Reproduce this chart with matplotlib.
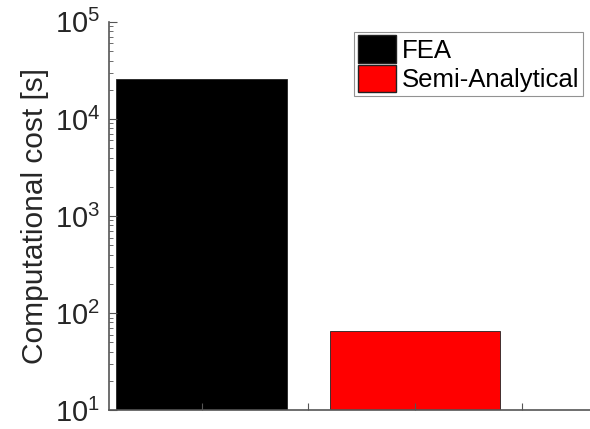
import matplotlib
matplotlib.use("Agg")
import matplotlib.pyplot as plt
from matplotlib.patches import Patch

methods = ["FEA", "Semi-Analytical"]
cost = [2.6e4, 65]
colors = ["black", "red"]
xpos = [1, 2]

plt.rcParams["font.family"] = "Liberation Sans"
plt.rcParams["mathtext.default"] = "regular"

fig = plt.figure(figsize=(5.9, 4.29), dpi=100)
ax = fig.add_axes([0.184, 0.044, 0.816, 0.905])

ax.bar(xpos, cost, width=0.8, color=colors, edgecolor="#222222", linewidth=0.6, bottom=0)
ax.set_yscale("log")
ax.set_ylim(10, 1e5)
ax.set_xlim(0.564, 2.82)
ax.set_xticks([1, 1.5, 2, 2.5])
ax.set_xticklabels([])
ax.set_ylabel("Computational cost [s]", fontsize=21.5, color="#262626", labelpad=4)

for s in ["top", "right"]:
    ax.spines[s].set_visible(False)
for s in ["left", "bottom"]:
    ax.spines[s].set_color("#555555")
    ax.spines[s].set_linewidth(1.2)
ax.tick_params(axis="both", which="both", direction="in", colors="#555555", labelcolor="#262626", labelsize=21)
ax.tick_params(axis="y", which="major", length=6, pad=6)
ax.tick_params(axis="y", which="minor", length=3)
ax.tick_params(axis="x", length=5)

handles = [Patch(facecolor=c, edgecolor="#222222", label=m) for m, c in zip(methods, colors)]
leg = ax.legend(handles=handles, loc="upper right", bbox_to_anchor=(0.985, 0.975), fontsize=18.5,
                frameon=True, fancybox=False, edgecolor="#777777", handlelength=1.5, handleheight=1.25,
                handletextpad=0.2, borderpad=0.15, labelspacing=0.1, borderaxespad=0)
leg.get_frame().set_linewidth(0.8)

fig.savefig("out.png", dpi=100)
